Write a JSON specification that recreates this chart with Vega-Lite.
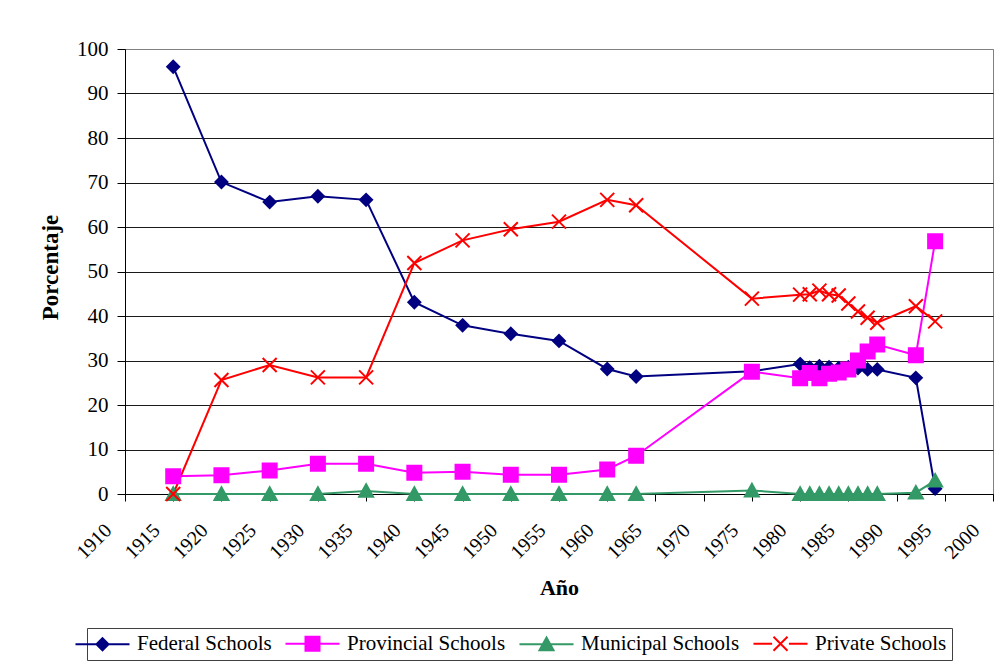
{
  "$schema": "https://vega.github.io/schema/vega-lite/v6.json",
  "autosize": {"type": "none"},
  "width": 868,
  "height": 445,
  "padding": {"left": 125, "top": 49, "right": 9, "bottom": 170},
  "background": "white",
  "config": {
    "font": "Liberation Serif",
    "view": {"stroke": "#808080", "strokeWidth": 1},
    "axis": {"labelFont": "Liberation Serif", "titleFont": "Liberation Serif", "labelColor": "black", "titleColor": "black"}
  },
  "data": {
    "values": [
      {"series": "Federal Schools", "year": 1915, "value": 96.0},
      {"series": "Federal Schools", "year": 1920, "value": 70.1},
      {"series": "Federal Schools", "year": 1925, "value": 65.6},
      {"series": "Federal Schools", "year": 1930, "value": 66.9},
      {"series": "Federal Schools", "year": 1935, "value": 66.1},
      {"series": "Federal Schools", "year": 1940, "value": 43.1},
      {"series": "Federal Schools", "year": 1945, "value": 37.9},
      {"series": "Federal Schools", "year": 1950, "value": 36.0},
      {"series": "Federal Schools", "year": 1955, "value": 34.4},
      {"series": "Federal Schools", "year": 1960, "value": 28.1},
      {"series": "Federal Schools", "year": 1963, "value": 26.4},
      {"series": "Federal Schools", "year": 1975, "value": 27.6},
      {"series": "Federal Schools", "year": 1980, "value": 29.2},
      {"series": "Federal Schools", "year": 1981, "value": 28.4},
      {"series": "Federal Schools", "year": 1982, "value": 28.7},
      {"series": "Federal Schools", "year": 1983, "value": 28.5},
      {"series": "Federal Schools", "year": 1984, "value": 28.3},
      {"series": "Federal Schools", "year": 1985, "value": 28.5},
      {"series": "Federal Schools", "year": 1986, "value": 28.3},
      {"series": "Federal Schools", "year": 1987, "value": 28.0},
      {"series": "Federal Schools", "year": 1988, "value": 28.0},
      {"series": "Federal Schools", "year": 1992, "value": 26.1},
      {"series": "Federal Schools", "year": 1994, "value": 1.2},
      {"series": "Provincial Schools", "year": 1915, "value": 4.0},
      {"series": "Provincial Schools", "year": 1920, "value": 4.2},
      {"series": "Provincial Schools", "year": 1925, "value": 5.3},
      {"series": "Provincial Schools", "year": 1930, "value": 6.8},
      {"series": "Provincial Schools", "year": 1935, "value": 6.8},
      {"series": "Provincial Schools", "year": 1940, "value": 4.8},
      {"series": "Provincial Schools", "year": 1945, "value": 5.0},
      {"series": "Provincial Schools", "year": 1950, "value": 4.3},
      {"series": "Provincial Schools", "year": 1955, "value": 4.3},
      {"series": "Provincial Schools", "year": 1960, "value": 5.5},
      {"series": "Provincial Schools", "year": 1963, "value": 8.6},
      {"series": "Provincial Schools", "year": 1975, "value": 27.5},
      {"series": "Provincial Schools", "year": 1980, "value": 26.0},
      {"series": "Provincial Schools", "year": 1981, "value": 27.2},
      {"series": "Provincial Schools", "year": 1982, "value": 26.0},
      {"series": "Provincial Schools", "year": 1983, "value": 27.0},
      {"series": "Provincial Schools", "year": 1984, "value": 27.3},
      {"series": "Provincial Schools", "year": 1985, "value": 28.0},
      {"series": "Provincial Schools", "year": 1986, "value": 30.0},
      {"series": "Provincial Schools", "year": 1987, "value": 32.0},
      {"series": "Provincial Schools", "year": 1988, "value": 33.6},
      {"series": "Provincial Schools", "year": 1992, "value": 31.2},
      {"series": "Provincial Schools", "year": 1994, "value": 56.8},
      {"series": "Municipal Schools", "year": 1915, "value": 0},
      {"series": "Municipal Schools", "year": 1920, "value": 0},
      {"series": "Municipal Schools", "year": 1925, "value": 0},
      {"series": "Municipal Schools", "year": 1930, "value": 0},
      {"series": "Municipal Schools", "year": 1935, "value": 0.7},
      {"series": "Municipal Schools", "year": 1940, "value": 0},
      {"series": "Municipal Schools", "year": 1945, "value": 0},
      {"series": "Municipal Schools", "year": 1950, "value": 0},
      {"series": "Municipal Schools", "year": 1955, "value": 0},
      {"series": "Municipal Schools", "year": 1960, "value": 0},
      {"series": "Municipal Schools", "year": 1963, "value": 0},
      {"series": "Municipal Schools", "year": 1975, "value": 0.8},
      {"series": "Municipal Schools", "year": 1980, "value": 0},
      {"series": "Municipal Schools", "year": 1981, "value": 0},
      {"series": "Municipal Schools", "year": 1982, "value": 0},
      {"series": "Municipal Schools", "year": 1983, "value": 0},
      {"series": "Municipal Schools", "year": 1984, "value": 0},
      {"series": "Municipal Schools", "year": 1985, "value": 0},
      {"series": "Municipal Schools", "year": 1986, "value": 0},
      {"series": "Municipal Schools", "year": 1987, "value": 0},
      {"series": "Municipal Schools", "year": 1988, "value": 0},
      {"series": "Municipal Schools", "year": 1992, "value": 0.3},
      {"series": "Municipal Schools", "year": 1994, "value": 3.0},
      {"series": "Private Schools", "year": 1915, "value": 0},
      {"series": "Private Schools", "year": 1920, "value": 25.6},
      {"series": "Private Schools", "year": 1925, "value": 29.0},
      {"series": "Private Schools", "year": 1930, "value": 26.2},
      {"series": "Private Schools", "year": 1935, "value": 26.2},
      {"series": "Private Schools", "year": 1940, "value": 51.9},
      {"series": "Private Schools", "year": 1945, "value": 57.0},
      {"series": "Private Schools", "year": 1950, "value": 59.5},
      {"series": "Private Schools", "year": 1955, "value": 61.2},
      {"series": "Private Schools", "year": 1960, "value": 66.1},
      {"series": "Private Schools", "year": 1963, "value": 64.9},
      {"series": "Private Schools", "year": 1975, "value": 43.9},
      {"series": "Private Schools", "year": 1980, "value": 44.8},
      {"series": "Private Schools", "year": 1981, "value": 44.9},
      {"series": "Private Schools", "year": 1982, "value": 45.7},
      {"series": "Private Schools", "year": 1983, "value": 44.9},
      {"series": "Private Schools", "year": 1984, "value": 44.6},
      {"series": "Private Schools", "year": 1985, "value": 42.8},
      {"series": "Private Schools", "year": 1986, "value": 41.0},
      {"series": "Private Schools", "year": 1987, "value": 39.6},
      {"series": "Private Schools", "year": 1988, "value": 38.5},
      {"series": "Private Schools", "year": 1992, "value": 42.2},
      {"series": "Private Schools", "year": 1994, "value": 38.8}
    ]
  },
  "encoding": {
    "x": {
      "field": "year", "type": "quantitative",
      "scale": {"domain": [1910, 2000], "nice": false, "zero": false},
      "axis": {
        "title": "Año", "titleFontSize": 22, "titleFontWeight": "bold",
        "titleX": 434, "titleY": 93, "titleBaseline": "middle", "titleAlign": "center",
        "values": [1910, 1915, 1920, 1925, 1930, 1935, 1940, 1945, 1950, 1955, 1960, 1965, 1970, 1975, 1980, 1985, 1990, 1995, 2000],
        "format": "d", "labelAngle": -45, "labelAlign": "right", "labelBaseline": "middle",
        "labelFontSize": 20, "labelOffset": -17, "labelPadding": 26, "labelOverlap": false, "labelFlush": false,
        "grid": false, "tickSize": 7, "tickColor": "black", "domainColor": "black", "domainWidth": 1
      }
    },
    "y": {
      "field": "value", "type": "quantitative",
      "scale": {"domain": [0, 100], "nice": false},
      "axis": {
        "title": "Porcentaje", "titleFontSize": 23, "titleFontWeight": "bold",
        "titleAngle": -90, "titleX": -75, "titleY": 218, "titleBaseline": "middle", "titleAlign": "center",
        "values": [0, 10, 20, 30, 40, 50, 60, 70, 80, 90, 100],
        "labelFontSize": 21, "labelPadding": 9, "tickSize": 8, "tickColor": "black",
        "domainColor": "black", "grid": true,
        "gridColor": {"condition": {"test": "datum.value === 100", "value": "#808080"}, "value": "#1a1a1a"},
        "gridWidth": 1
      }
    }
  },
  "layer": [
    {
      "mark": {"type": "line", "strokeWidth": 2},
      "encoding": {
        "color": {
          "field": "series", "type": "nominal",
          "scale": {
            "domain": ["Federal Schools", "Provincial Schools", "Municipal Schools", "Private Schools"],
            "range": ["#000080", "#FF00FF", "#339966", "#FF0000"]
          },
          "legend": {
            "orient": "none", "legendX": -38, "legendY": 579, "direction": "horizontal",
            "title": null, "labelFont": "Liberation Serif", "labelFontSize": 21, "labelColor": "black",
            "symbolSize": 196, "symbolStrokeWidth": 2, "labelOffset": 24, "columnPadding": 9,
            "strokeColor": "#404040", "padding": 5, "fillColor": "white",
            "encode": {
              "symbols": {
                "update": {
                  "shape": {"signal": "datum.value === 'Federal Schools' ? 'M-3.86,0H3.86M0,-0.86L0.86,0L0,0.86L-0.86,0Z' : datum.value === 'Provincial Schools' ? 'M-3.86,0H3.86M-1,-1H1V1H-1Z' : datum.value === 'Municipal Schools' ? 'M-3.86,0H3.86M0,-0.95L1,0.85L-1,0.85Z' : 'M-3.86,0H-1.2M1.2,0H3.86M-1,-1L1,1M1,-1L-1,1'"},
                  "fill": {"signal": "datum.value === 'Private Schools' ? 'transparent' : scale('color', datum.value)"},
                  "stroke": {"signal": "scale('color', datum.value)"},
                  "strokeWidth": {"value": 2},
                  "opacity": {"value": 1}
                }
              }
            }
          }
        }
      }
    },
    {
      "transform": [{"filter": "datum.series === 'Federal Schools'"}],
      "mark": {"type": "point", "shape": "M0,-0.86L0.86,0L0,0.86L-0.86,0Z", "size": 196, "fill": "#000080", "stroke": "#000080", "strokeWidth": 2, "opacity": 1, "filled": true}
    },
    {
      "transform": [{"filter": "datum.series === 'Provincial Schools'"}],
      "mark": {"type": "point", "shape": "M-1,-1H1V1H-1Z", "size": 196, "fill": "#FF00FF", "stroke": "#FF00FF", "strokeWidth": 2, "opacity": 1, "filled": true}
    },
    {
      "transform": [{"filter": "datum.series === 'Municipal Schools'"}],
      "mark": {"type": "point", "shape": "M0,-0.95L1,0.85L-1,0.85Z", "size": 196, "fill": "#339966", "stroke": "#339966", "strokeWidth": 2, "opacity": 1, "filled": true}
    },
    {
      "transform": [{"filter": "datum.series === 'Private Schools'"}],
      "mark": {"type": "point", "shape": "M-1,-1L1,1M1,-1L-1,1", "size": 196, "fill": "transparent", "stroke": "#FF0000", "strokeWidth": 2, "opacity": 1, "filled": false}
    }
  ]
}
